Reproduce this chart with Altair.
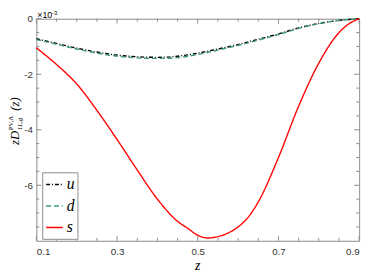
import altair as alt
import pandas as pd

# ---- data (values in units of 1e-3) ----
z_ud = [0.10, 0.15, 0.20, 0.25, 0.30, 0.35, 0.40, 0.45, 0.50, 0.55, 0.60, 0.65, 0.70, 0.75, 0.80, 0.85, 0.90]
u_vals = [-0.72, -0.89, -1.06, -1.20, -1.31, -1.37, -1.39, -1.35, -1.24, -1.09, -0.93, -0.74, -0.55, -0.33, -0.17, -0.06, 0.0]
d_vals = [-0.75, -0.92, -1.09, -1.24, -1.35, -1.41, -1.43, -1.40, -1.29, -1.13, -0.96, -0.77, -0.57, -0.35, -0.18, -0.06, 0.0]
z_s = [0.10, 0.15, 0.20, 0.25, 0.30, 0.35, 0.40, 0.45, 0.475, 0.50, 0.525, 0.55, 0.575, 0.60, 0.625, 0.65, 0.70, 0.75, 0.80, 0.85, 0.875, 0.90]
s_vals = [-1.05, -1.65, -2.35, -3.3, -4.35, -5.45, -6.5, -7.3, -7.55, -7.8, -7.9, -7.85, -7.72, -7.5, -7.15, -6.6, -5.0, -3.15, -1.6, -0.5, -0.18, 0.0]

series = ["u", "d", "s"]
colors = ["#000000", "#3b9c6e", "#ff0000"]
dashes = [[4, 2, 1, 2], [5, 3], [1, 0]]

x_major = [0.1, 0.3, 0.5, 0.7, 0.9]
x_minor = [0.15, 0.2, 0.25, 0.35, 0.4, 0.45, 0.55, 0.6, 0.65, 0.75, 0.8, 0.85]
y_major = [0, -2, -4, -6]
y_minor = [-0.5, -1, -1.5, -2.5, -3, -3.5, -4.5, -5, -5.5, -6.5, -7, -7.5]

rows = []
for q, zs, vs in [("u", z_ud, u_vals), ("d", z_ud, d_vals), ("s", z_s, s_vals)]:
    for i, (zz, vv) in enumerate(zip(zs, vs)):
        rows.append({"z": zz, "v": vv, "q": q, "o": i})
df = pd.DataFrame(rows)

W, H = 330, 227
GRAY = "#8a8a8a"
xs = alt.Scale(domain=[0.1, 0.9], nice=False, zero=False)
ys = alt.Scale(domain=[-8, 0], nice=False, zero=False)

x_axis = alt.Axis(values=x_major, format=".1f", ticks=False, domain=False, grid=False,
                  labelPadding=6, labelFontSize=10, labelColor="#333",
                  labelFont="Liberation Sans", title=None)
y_axis = alt.Axis(values=y_major, labelExpr="'' + datum.value", ticks=False, domain=False,
                  grid=False, labelPadding=4, labelFontSize=10, labelColor="#333",
                  labelFont="Liberation Sans", title=None)

leg = dict(title=None, orient="none", legendX=6, legendY=157,
           symbolType="stroke", symbolSize=289, symbolStrokeWidth=1.5,
           rowPadding=4, padding=3, labelOffset=3,
           labelFont="Liberation Serif", labelFontStyle="italic",
           labelFontSize=16, labelColor="#000",
           strokeColor=GRAY, fillColor="white")

lines = alt.Chart(df).mark_line(strokeWidth=1.4, interpolate="monotone").encode(
    x=alt.X("z:Q", scale=xs, axis=x_axis, title=None),
    y=alt.Y("v:Q", scale=ys, axis=y_axis, title=None),
    color=alt.Color("q:N", scale=alt.Scale(domain=series, range=colors), sort=series,
                    legend=alt.Legend(**leg)),
    strokeDash=alt.StrokeDash("q:N", scale=alt.Scale(domain=series, range=dashes), sort=series,
                              legend=alt.Legend(**leg)),
    order="o:Q",
)


def tick_layer(vals, axis, side, length):
    d = pd.DataFrame({"t": vals})
    base = alt.Chart(d).mark_rule(color=GRAY, strokeWidth=1)
    if axis == "x":
        if side == "bottom":
            y1, y2 = H, H - length
        else:
            y1, y2 = 0, length
        return base.encode(x=alt.X("t:Q", scale=xs, axis=x_axis, title=None),
                           y=alt.value(y1), y2=alt.value(y2))
    else:
        if side == "left":
            x1, x2 = 0, length
        else:
            x1, x2 = W, W - length
        return base.encode(y=alt.Y("t:Q", scale=ys, axis=y_axis, title=None),
                           x=alt.value(x1), x2=alt.value(x2))


ticks = []
for side in ["bottom", "top"]:
    ticks.append(tick_layer(x_major, "x", side, 5))
    ticks.append(tick_layer(x_minor, "x", side, 3))
for side in ["left", "right"]:
    ticks.append(tick_layer(y_major, "y", side, 5))
    ticks.append(tick_layer(y_minor, "y", side, 3))


def txt(s, x, y, size, style="normal", font="Liberation Serif", angle=0, align="left",
        baseline="middle"):
    return alt.Chart(alt.Data(values=[{"k": 1}])).mark_text(
        text=s, fontSize=size, fontStyle=style, font=font, angle=angle, align=align,
        baseline=baseline, color="#000").encode(x=alt.value(x), y=alt.value(y))


labels = [
    txt("zD", -21.5, 129, 13, "italic", angle=270),
    txt("PV,Λ", -25.5, 114, 7, "normal", angle=270),
    txt("1L,g", -16.5, 114, 7, "italic", angle=270),
    txt("(z)", -21.5, 94, 13, "italic", angle=270),
    txt("z", 165, 257, 14, "italic", align="center", baseline="alphabetic"),
    txt("×10", 1, -1, 9, font="Liberation Sans", baseline="alphabetic"),
    txt("-3", 16, -3.5, 6, font="Liberation Sans", baseline="alphabetic"),
]

chart = alt.layer(*ticks, lines, *labels).properties(
    width=W, height=H,
    autosize=alt.AutoSizeParams(type="none"),
    padding={"left": 29, "top": 8, "right": 7, "bottom": 32},
).configure_view(stroke=GRAY, strokeWidth=1).resolve_scale(x="shared", y="shared")

chart.save("out.html", embed_options={"renderer": "svg", "actions": False})
